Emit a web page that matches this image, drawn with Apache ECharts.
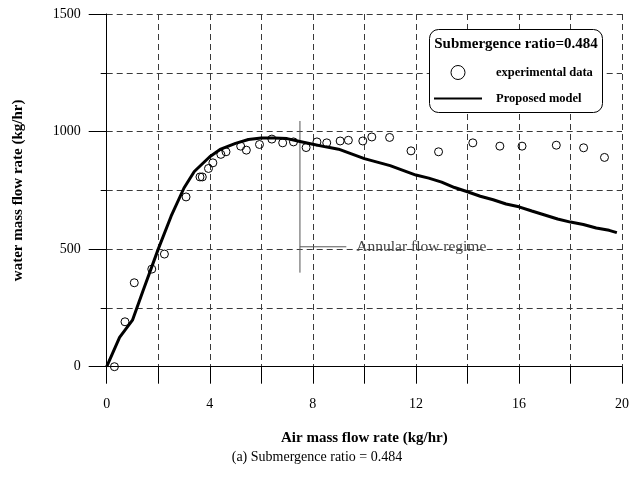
<!DOCTYPE html>
<html>
<head>
<meta charset="utf-8">
<script src="https://cdn.jsdelivr.net/npm/echarts@6/dist/echarts.min.js"></script>
<style>
  html, body { margin: 0; padding: 0; background: #fff; }
  #chart { width: 632px; height: 477px; }
</style>
</head>
<body>
<div id="chart"></div>
<script>
// Experimental measurements (air mass flow rate kg/hr, water mass flow rate kg/hr)
const expAir = [0.30, 0.71, 1.07, 1.75, 2.24, 3.08, 3.62, 3.71, 3.95, 4.12, 4.43, 4.63,
  5.20, 5.42, 5.93, 6.41, 6.83, 7.25, 7.74, 8.16, 8.54, 9.06, 9.38, 9.94, 10.29,
  10.98, 11.81, 12.88, 14.21, 15.26, 16.12, 17.45, 18.51, 19.32];
const expWater = [0, 191, 357, 415, 479, 722, 807, 807, 843, 867, 903, 914,
  938, 921, 945, 968, 952, 956, 932, 956, 952, 960, 963, 960, 977,
  975, 918, 914, 952, 938, 938, 942, 931, 890];

// Proposed model curve
const modelAir = [0, 0.5, 1.0, 1.4, 2.0, 2.5, 3.0, 3.4, 4.0, 4.4, 5.0, 5.5, 6.0, 6.5,
  7.0, 7.5, 8.0, 8.5, 9.0, 9.5, 10.0, 10.5, 11.0, 11.5, 12.0, 12.5, 13.0, 13.5,
  14.0, 14.5, 15.0, 15.5, 16.0, 16.5, 17.0, 17.5, 18.0, 18.5, 19.0, 19.5, 19.8];
const modelWater = [0, 125, 198, 320, 500, 640, 760, 830, 893, 924, 950, 966, 973, 973,
  970, 958, 946, 935, 925, 905, 885, 870, 855, 835, 815, 802, 785, 762,
  744, 725, 710, 692, 680, 662, 645, 628, 615, 605, 590, 580, 570];

// Annular flow regime marker
const regimeX = [7.5, 7.5];
const regimeY = [400, 1045];
const pointerX = [7.5, 9.3];
const pointerY = [510, 510];
const regimeLabel = 'Annular flow regime';

const xTicks = [0, 4, 8, 12, 16, 20];
const yTicks = [0, 500, 1000, 1500];

const serif = '"Liberation Serif", "DejaVu Serif", serif';
const zip = (a, b) => a.map((v, i) => [v, b[i]]);

const chart = echarts.init(document.getElementById('chart'), null, { renderer: 'canvas' });

const gridDash = { color: '#3a3a3a', width: 1, type: [6, 4] };

chart.setOption({
  animation: false,
  backgroundColor: '#fff',
  textStyle: { fontFamily: serif, color: '#000' },
  grid: { left: 106.7, right: 9, top: 14, bottom: 110.3 },
  xAxis: [{
    type: 'value', min: 0, max: 20, interval: 2,
    name: 'Air mass flow rate (kg/hr)', nameLocation: 'middle', nameGap: 64,
    nameTextStyle: { fontFamily: serif, fontWeight: 'bold', fontSize: 15, color: '#000' },
    axisLine: { show: true, onZero: false, lineStyle: { color: '#000', width: 1 } },
    axisTick: { show: true, inside: false, length: 17, lineStyle: { color: '#000' },
      interval: (i, v) => xTicks.indexOf(v) >= 0 },
    axisLabel: { margin: 31, fontFamily: serif, fontSize: 14, color: '#000',
      formatter: v => (xTicks.indexOf(v) >= 0 ? String(v) : '') },
    splitLine: { show: true, lineStyle: gridDash }
  }],
  yAxis: [{
    type: 'value', min: 0, max: 1500, interval: 250,
    name: 'water mass flow rate (kg/hr)', nameLocation: 'middle', nameGap: 81,
    nameTextStyle: { fontFamily: serif, fontWeight: 'bold', fontSize: 15, color: '#000' },
    axisLine: { show: true, onZero: false, lineStyle: { color: '#000', width: 1 } },
    axisTick: { show: false },
    minorTick: { show: false },
    axisLabel: { margin: 26, fontFamily: serif, fontSize: 14, color: '#000',
      formatter: v => (yTicks.indexOf(v) >= 0 ? String(v) : '') },
    splitLine: { show: true, lineStyle: gridDash }
  }, {
    // tick marks: long at labelled values, short between
    type: 'value', min: 0, max: 1500, interval: 250, position: 'left',
    axisLine: { show: false },
    axisTick: { show: true, length: 6, lineStyle: { color: '#000' } },
    axisLabel: { show: false }, splitLine: { show: false }
  }, {
    type: 'value', min: 0, max: 1500, interval: 500, position: 'left',
    axisLine: { show: false },
    axisTick: { show: true, length: 18, lineStyle: { color: '#000' } },
    axisLabel: { show: false }, splitLine: { show: false }
  }],
  legend: {
    orient: 'vertical', left: 428, top: 60,
    itemWidth: 48, itemHeight: 14, itemGap: 12,
    data: [
      { name: 'experimental data',
        itemStyle: { color: 'rgba(255,255,255,0)', borderColor: '#000', borderWidth: 1 } },
      { name: 'Proposed model', itemStyle: { opacity: 0 } }
    ],
    textStyle: { fontFamily: serif, fontWeight: 'bold', fontSize: 12.5, color: '#000', padding: [0, 0, 0, 9] },
    z: 10
  },
  graphic: [{
    type: 'rect', z: 5,
    shape: { x: 429.5, y: 29.5, width: 173, height: 83, r: 9 },
    style: { fill: '#fff', stroke: '#000', lineWidth: 1 }
  }, {
    type: 'text', z: 6, x: 516, y: 44,
    style: { text: 'Submergence ratio=0.484', font: 'bold 15px ' + serif, fill: '#000',
      align: 'center', verticalAlign: 'middle' }
  }, {
    type: 'text', z: 6, x: 317, y: 457,
    style: { text: '(a) Submergence ratio = 0.484', font: '14px ' + serif, fill: '#000',
      align: 'center', verticalAlign: 'middle' }
  }],
  series: [{
    name: 'experimental data', type: 'scatter',
    symbol: 'circle', symbolSize: 8,
    itemStyle: { color: 'rgba(255,255,255,0)', borderColor: '#000', borderWidth: 1, opacity: 1 },
    data: zip(expAir, expWater), z: 4
  }, {
    name: 'Proposed model', type: 'line',
    showSymbol: false, symbol: 'none',
    lineStyle: { color: '#000', width: 3 },
    itemStyle: { color: '#000' },
    data: zip(modelAir, modelWater), z: 3
  }, {
    name: 'regime', type: 'line', silent: true,
    showSymbol: false, symbol: 'none',
    lineStyle: { color: '#555', width: 1 },
    data: zip(regimeX, regimeY), z: 2
  }, {
    name: 'regime pointer', type: 'line', silent: true,
    showSymbol: false, symbol: 'none',
    lineStyle: { color: '#555', width: 1 },
    data: zip(pointerX, pointerY), z: 2,
    endLabel: { show: true, formatter: regimeLabel, fontFamily: serif, fontSize: 15.5,
      color: '#444', distance: 10 }
  }]
});
</script>
</body>
</html>
